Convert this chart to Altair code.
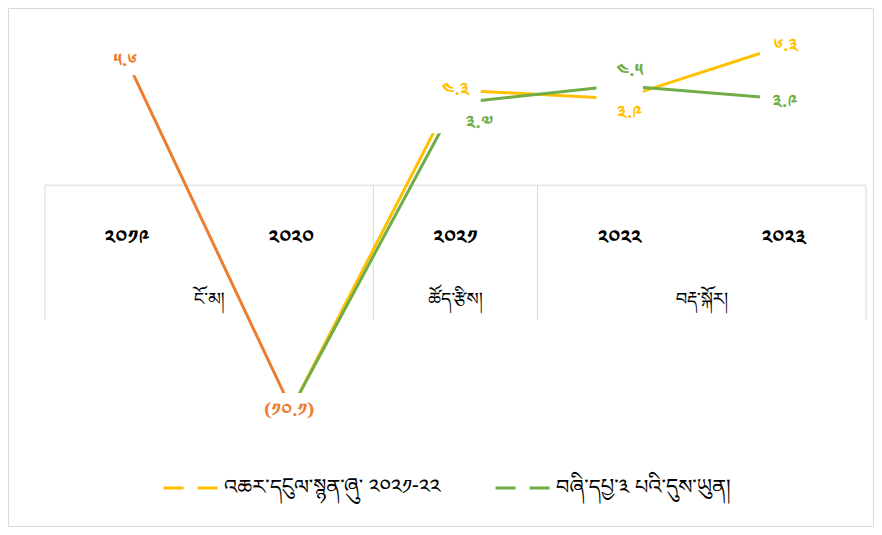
import altair as alt
import pandas as pd

# ---------------- data ----------------
years = ["2019", "2020", "2021", "2022", "2023"]
groups = ["ངོ་མ།", "ངོ་མ།", "ཚོད་རྩིས།", "བརྡ་སྐོར།", "བརྡ་སྐོར།"]
actual = [5.6, -10.1, None, None, None]
budget = [None, -10.1, 4.3, 3.9, 6.3]
q3 = [None, -10.1, 3.7, 4.5, 3.9]
series_names = ["འཆར་དངུལ་སྙན་ཞུ་ ༢༠༢༡-༢༢", "བཞི་དཔྱ་༣ པའི་དུས་ཡུན།"]

# ---------------- styles ----------------
ORANGE, YELLOW, GREEN = "#ED7D31", "#FFC000", "#70AD47"
GRID = "#d9d9d9"
FONT = "Noto Sans Tibetan, Noto Serif Tibetan, Jomolhari, Tibetan Machine Uni, Noto Sans, DejaVu Sans"
W, H = 821, 443
orange_off = [(-2, 0), (-2, 2), None, None, None]
budget_off = [None, None, (0, 0), (10, 14), (2, 0)]
q3_off = [None, None, (24, 20), (10, -15), (1, 3)]
mask_box = [(40, 28), (48, 32), (50, 60), (46, 30), (48, 30)]

TIB = str.maketrans("0123456789", "༠༡༢༣༤༥༦༧༨༩")


def tib(v):
    s = f"{abs(v):.1f}".translate(TIB)
    return f"({s})" if v < 0 else s


idx = list(range(len(years)))
xs = alt.Scale(domain=[-0.5, len(years) - 0.5], nice=False, zero=False)
ys = alt.Scale(domain=[-12, 8], nice=False, zero=False)


def X():
    return alt.X("i:Q", scale=xs, axis=None)


def Y():
    return alt.Y("v:Q", scale=ys, axis=None)


df_actual = pd.DataFrame({"i": idx, "v": actual}).dropna()
rows = []
for name, vals in zip(series_names, [budget, q3]):
    for i, v in zip(idx, vals):
        if v is not None:
            rows.append({"i": i, "v": v, "s": name})
df_series = pd.DataFrame(rows)

layers = []

# outer border
layers.append(
    alt.Chart(pd.DataFrame({"a": [0]})).mark_rect(fill="transparent", stroke=GRID, strokeWidth=1)
    .encode(x=alt.value(-36.5), x2=alt.value(W + 7.5), y=alt.value(0.5), y2=alt.value(518.5))
)

# category axis box
layers.append(
    alt.Chart(pd.DataFrame({"i": [-0.5], "i2": [len(years) - 0.5], "v": [0]}))
    .mark_rule(color=GRID, strokeWidth=1)
    .encode(x=X(), x2="i2:Q", y=Y())
)
bounds = [-0.5]
for k in range(1, len(groups)):
    if groups[k] != groups[k - 1]:
        bounds.append(k - 0.5)
bounds.append(len(years) - 0.5)
layers.append(
    alt.Chart(pd.DataFrame({"i": bounds, "v": [0] * len(bounds)}))
    .mark_rule(color=GRID, strokeWidth=1)
    .encode(x=X(), y=Y(), y2=alt.value(312))
)
df_years = pd.DataFrame({"i": idx, "t": [y.translate(TIB) for y in years]})
layers.append(
    alt.Chart(df_years).mark_text(font=FONT, fontSize=20, color="#000", fontWeight="bold")
    .encode(x=X(), y=alt.value(230), text="t:N")
)
gdf = pd.DataFrame({"i": idx, "g": groups}).groupby("g", sort=False)["i"].mean().reset_index()
layers.append(
    alt.Chart(gdf).mark_text(font=FONT, fontSize=18, color="#000")
    .encode(x=X(), y=alt.value(292), text="g:N")
)

# lines
layers.append(
    alt.Chart(df_actual).mark_line(color=ORANGE, strokeWidth=3)
    .encode(x=X(), y=Y())
)
layers.append(
    alt.Chart(df_series).mark_line(strokeWidth=3)
    .encode(
        x=X(), y=Y(),
        color=alt.Color(
            "s:N",
            scale=alt.Scale(domain=series_names, range=[YELLOW, GREEN]),
            legend=alt.Legend(
                title=None, orient="none", direction="horizontal",
                legendX=117, legendY=451,
                symbolType="stroke", symbolSize=3025, symbolStrokeWidth=3,
                symbolDash=[20, 14], labelFont=FONT, labelFontSize=21,
                labelColor="#000", labelOffset=4, columnPadding=48,
                labelLimit=500,
            ),
        ),
    )
)

# white masks around labelled points, then labels
labels = []
for vals, offs, col in [(actual, orange_off, ORANGE), (budget, budget_off, YELLOW), (q3, q3_off, GREEN)]:
    for i, v, o in zip(idx, vals, offs):
        if v is not None and o is not None:
            labels.append((i, v, o, col))

for i, v, o, col in labels:
    w, h = mask_box[i]
    r = h / w
    layers.append(
        alt.Chart(pd.DataFrame({"i": [i], "v": [v]}))
        .mark_point(shape=f"M-1,-{r:.3f}H1V{r:.3f}H-1Z", filled=True, fill="white",
                    color="white", opacity=1, strokeWidth=0, size=w * w)
        .encode(x=X(), y=Y())
    )
for i, v, o, col in labels:
    layers.append(
        alt.Chart(pd.DataFrame({"i": [i], "v": [v], "t": [tib(v)]}))
        .mark_text(font=FONT, fontSize=18, fontWeight="bold", color=col, dx=o[0], dy=o[1])
        .encode(x=X(), y=Y(), text="t:N")
    )

chart = (
    alt.layer(*layers)
    .properties(width=W, height=H, autosize="none", background="white",
                padding={"left": 37, "top": 0, "right": 8, "bottom": 76})
    .configure_view(stroke=None, strokeWidth=0)
)

chart.save("out.html", embed_options={"renderer": "svg", "actions": False})
